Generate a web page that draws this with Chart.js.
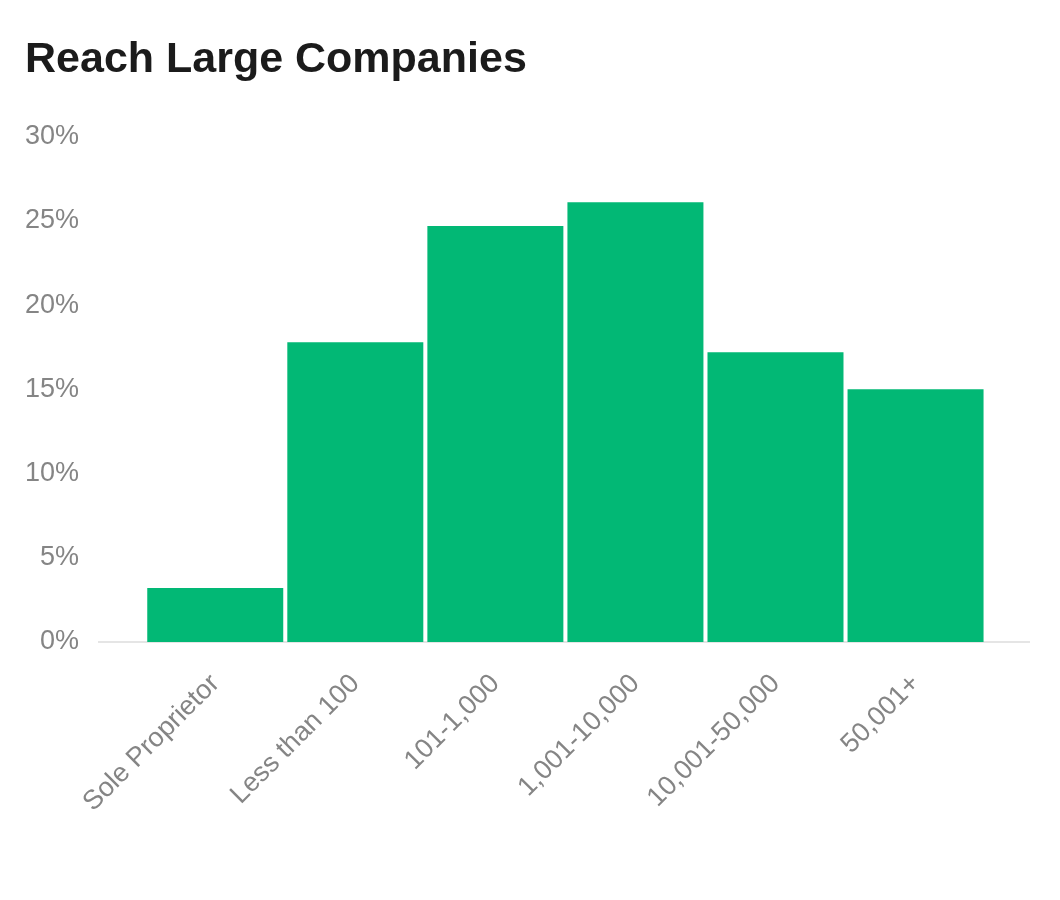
<!DOCTYPE html>
<html>
<head>
<meta charset="utf-8">
<script src="https://cdn.jsdelivr.net/npm/chart.js@4"></script>
<style>
  html, body { margin: 0; padding: 0; background: #ffffff; }
  #wrap { width: 1060px; height: 900px; position: relative; }
</style>
</head>
<body>
<div id="wrap"><canvas id="myChart"></canvas></div>
<script>
// Chart data
const categories = ['Sole Proprietor', 'Less than 100', '101-1,000', '1,001-10,000', '10,001-50,000', '50,001+']
const shares = [3.2, 17.8, 24.7, 26.1, 17.2, 15.0]
const yTicks = [0, 5, 10, 15, 20, 25, 30]

const tickFont = { family: 'Liberation Sans', size: 27 }
const tickColor = '#858585'

const ctx = document.getElementById('myChart').getContext('2d')

// Linear x axis so the baseline can run past the outer bars
const points = categories.map((c, i) => ({ x: i, y: shares[i] }))

const myChart = new Chart(ctx, {
  type: 'bar',
  data: {
    datasets: [{
      label: 'Reach Large Companies',
      data: points,
      backgroundColor: '#02b875',
      borderWidth: 0,
      categoryPercentage: 1,
      barPercentage: 0.971,
    }]
  },
  options: {
    responsive: true,
    maintainAspectRatio: false,
    animation: false,
    layout: {
      padding: { left: 25, right: 31, top: 0, bottom: 58 }
    },
    plugins: {
      legend: { display: false },
      tooltip: { enabled: false },
      title: {
        display: true,
        text: 'Reach Large Companies',
        align: 'start',
        color: '#1b1b1b',
        font: { family: 'Liberation Sans', size: 43, weight: 'bold' },
        padding: { top: 34, bottom: 51 }
      }
    },
    scales: {
      x: {
        type: 'linear',
        offset: false,
        min: -0.83,
        max: 5.81,
        z: 1,
        grid: { display: false, drawTicks: false },
        border: { display: true, color: 'rgba(0, 0, 0, 0.1)', width: 2 },
        afterFit: function(scale) {
          scale.height = 200
        },
        ticks: {
          stepSize: 1,
          includeBounds: false,
          autoSkip: false,
          minRotation: 45,
          maxRotation: 45,
          padding: 26,
          color: tickColor,
          font: tickFont,
          callback: function(value) {
            return Number.isInteger(value) ? categories[value] : ''
          }
        }
      },
      y: {
        min: yTicks[0],
        max: yTicks[yTicks.length - 1],
        grid: { display: false, drawTicks: false },
        border: { display: false },
        afterFit: function(scale) {
          scale.width = 74
        },
        afterBuildTicks: function(scale) {
          scale.ticks = yTicks.map(v => ({ value: v }))
        },
        ticks: {
          padding: 20,
          color: tickColor,
          font: tickFont,
          callback: function(value) {
            return value + '%'
          }
        }
      }
    }
  }
})
</script>
</body>
</html>
